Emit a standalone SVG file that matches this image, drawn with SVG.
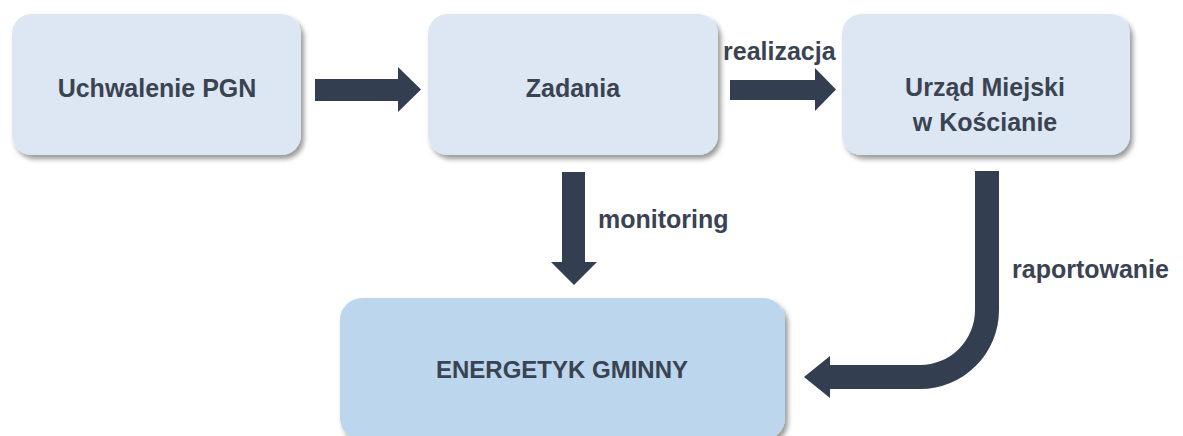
<svg xmlns="http://www.w3.org/2000/svg" width="1183" height="436" viewBox="0 0 1183 436">
  <defs>
    <filter id="sh" x="-10%" y="-10%" width="125%" height="130%">
      <feDropShadow dx="3" dy="4" stdDeviation="2.5" flood-color="#000" flood-opacity="0.4"/>
    </filter>
  </defs>
  <style>
    .box { fill: #dce7f3; filter: url(#sh); }
    .box2 { fill: #bcd6ed; filter: url(#sh); }
    .t { font-family: "Liberation Sans", Arial, sans-serif; font-weight: bold; font-size: 25px; fill: #3a4352; }
    .c { text-anchor: middle; }
    .arr { fill: #333e50; }
  </style>
  <rect width="1183" height="436" fill="#ffffff"/>

  <g id="node-uchwalenie">
    <rect class="box" x="12" y="14" width="289" height="141" rx="20"/>
    <text class="t c" x="157" y="97">Uchwalenie PGN</text>
  </g>
  <g id="node-zadania">
    <rect class="box" x="428" y="14" width="290" height="141" rx="20"/>
    <text class="t c" x="573" y="97">Zadania</text>
  </g>
  <g id="node-urzad">
    <rect class="box" x="842" y="14" width="288" height="141" rx="20"/>
    <text class="t c" x="985" y="96">Urząd Miejski</text>
    <text class="t c" x="985" y="131">w Kościanie</text>
  </g>
  <g id="node-energetyk">
    <rect class="box2" x="340" y="298" width="445" height="142" rx="22"/>
    <text class="t c" x="562" y="378" style="font-size:24px">ENERGETYK GMINNY</text>
  </g>

  <g id="connectors">
    <polygon class="arr" points="315,79 398,79 398,67 421,89.5 398,112 398,101 315,101"/>
    <polygon class="arr" points="730,80 815,80 815,68 836,89.5 815,111 815,100 730,100"/>
    <polygon class="arr" points="562,172 585,172 585,262 597,262 574,285 551,262 562,262"/>
    <path class="arr" d="M975,171 H999 V310 A79,79 0 0 1 920,389 H830 V398 L804,377 L830,356 V365 H920 A55,55 0 0 0 975,310 Z"/>
    <text class="t" x="723" y="60">realizacja</text>
    <text class="t" x="598" y="228">monitoring</text>
    <text class="t" x="1012" y="278">raportowanie</text>
  </g>
</svg>
